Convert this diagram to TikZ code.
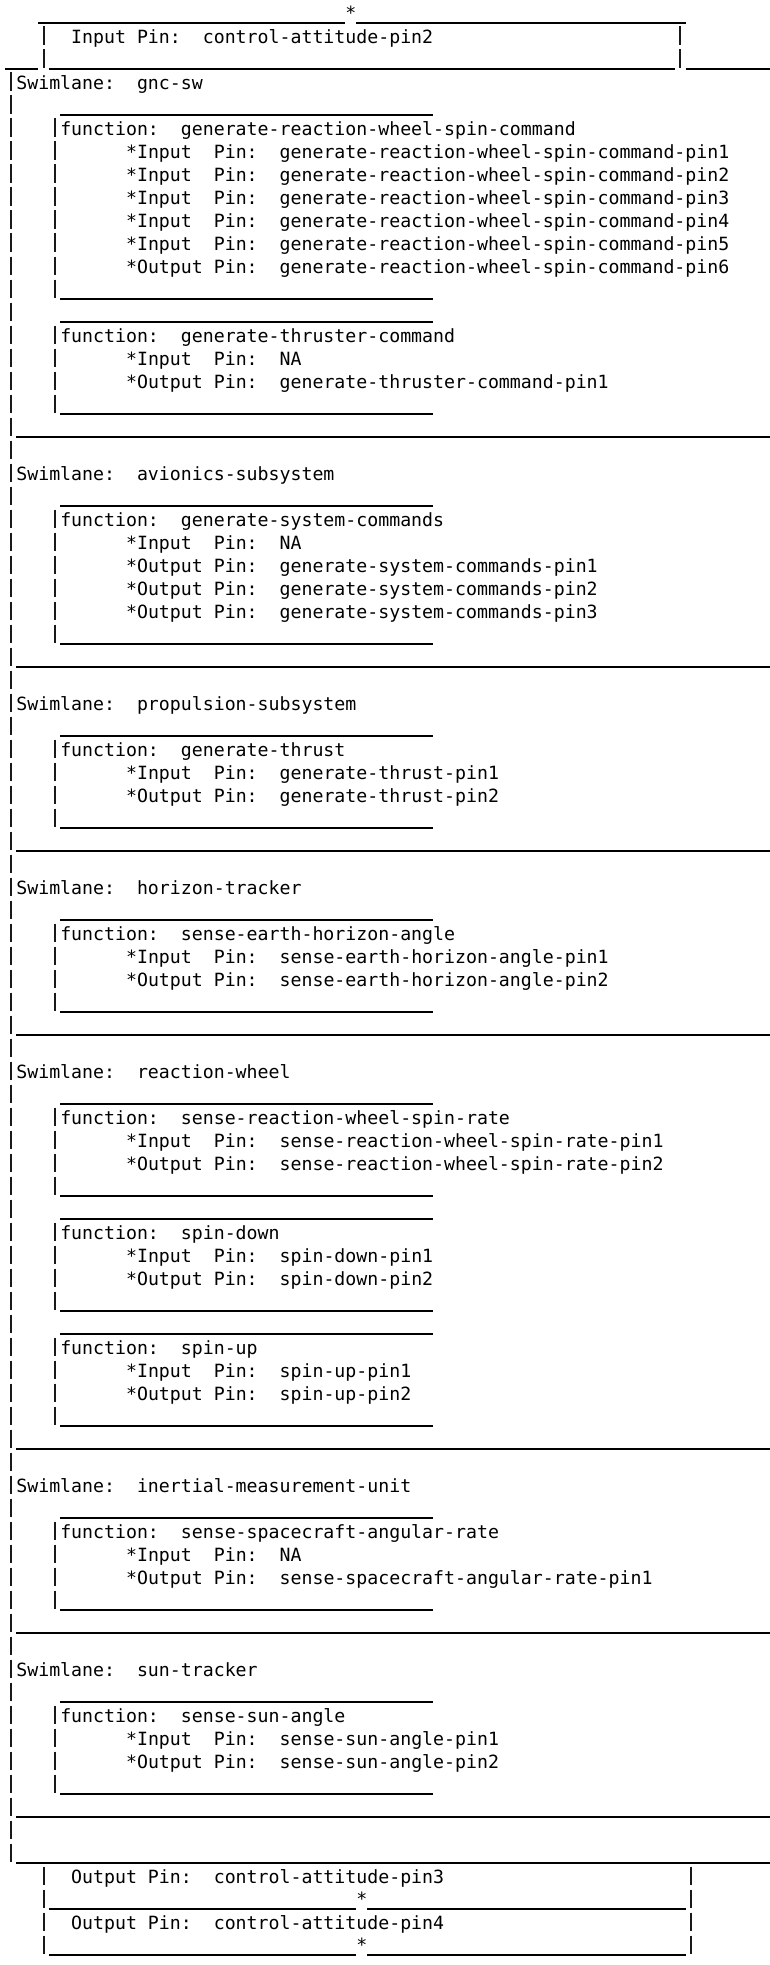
\documentclass[tikz,border=0pt]{standalone}
\usepackage{fontspec}
\newfontfamily\monofont{DejaVu Sans Mono}
\newcommand\mkUL[3]{\draw[uline] (#1,#3+0.9913) -- (#2+1,#3+0.9913);}
\newcommand\mkULend[2]{\draw[uline] (#1,#2+0.9913) -- (69.8,#2+0.9913);}
\newcommand\mkVB[3]{\draw[vbar] (#1+0.5,#2+0.152) -- (#1+0.5,#3+0.9565);}
\newcommand\funcbox[2]{\mkUL{5}{38}{#1}\mkUL{5}{38}{#2}\mkVB{4}{#1+1}{#2}}
\begin{document}
\begin{tikzpicture}[x=10.97pt,y=-23pt,
  txt/.style={anchor=base west,inner sep=0pt,outer sep=0pt,text=black,
    font=\monofont\fontsize{18.22pt}{23pt}\selectfont},
  uline/.style={line width=2.2pt,draw=black},
  vbar/.style={line width=1.5pt,draw=black!90,dash pattern=on 18.5pt off 4.5pt}]
\useasboundingbox[fill=white] (-5.4pt,0pt) rectangle (763.6pt,-1965pt);
% ---------- top pin box ----------
\mkUL{3}{30}{0}
\mkUL{32}{61}{0}
\node[txt] (startop) at (31,0.84) {*};
\node[txt] (inpin2) at (6,1.8826) {Input Pin:~~control-attitude-pin2};
\mkVB{3}{1}{2}
\mkVB{61}{1}{2}
\mkUL{0}{2}{2}
\mkUL{4}{60}{2}
\mkULend{62}{2}
% ---------- swimlane frame ----------
\mkVB{0}{3}{80}
\foreach \r in {18,28,36,44,62,70,78,80} {\mkULend{1}{\r}}
% ---------- function boxes ----------
\funcbox{4}{12}
\funcbox{13}{17}
\funcbox{21}{27}
\funcbox{31}{35}
\funcbox{39}{43}
\funcbox{47}{51}
\funcbox{52}{56}
\funcbox{57}{61}
\funcbox{65}{69}
\funcbox{73}{77}
% ---------- gnc-sw ----------
\node[txt] (sw1) at (1,3.8826) {Swimlane:~~gnc-sw};
\node[txt] (f1) at (5,5.8826) {function:~~generate-reaction-wheel-spin-command};
\node[txt] (f1a) at (11,6.8826) {*Input~~Pin:~~generate-reaction-wheel-spin-command-pin1};
\node[txt] (f1b) at (11,7.8826) {*Input~~Pin:~~generate-reaction-wheel-spin-command-pin2};
\node[txt] (f1c) at (11,8.8826) {*Input~~Pin:~~generate-reaction-wheel-spin-command-pin3};
\node[txt] (f1d) at (11,9.8826) {*Input~~Pin:~~generate-reaction-wheel-spin-command-pin4};
\node[txt] (f1e) at (11,10.8826) {*Input~~Pin:~~generate-reaction-wheel-spin-command-pin5};
\node[txt] (f1f) at (11,11.8826) {*Output Pin:~~generate-reaction-wheel-spin-command-pin6};
\node[txt] (f2) at (5,14.8826) {function:~~generate-thruster-command};
\node[txt] (f2a) at (11,15.8826) {*Input~~Pin:~~NA};
\node[txt] (f2b) at (11,16.8826) {*Output Pin:~~generate-thruster-command-pin1};
% ---------- avionics ----------
\node[txt] (sw2) at (1,20.8826) {Swimlane:~~avionics-subsystem};
\node[txt] (f3) at (5,22.8826) {function:~~generate-system-commands};
\node[txt] (f3a) at (11,23.8826) {*Input~~Pin:~~NA};
\node[txt] (f3b) at (11,24.8826) {*Output Pin:~~generate-system-commands-pin1};
\node[txt] (f3c) at (11,25.8826) {*Output Pin:~~generate-system-commands-pin2};
\node[txt] (f3d) at (11,26.8826) {*Output Pin:~~generate-system-commands-pin3};
% ---------- propulsion ----------
\node[txt] (sw3) at (1,30.8826) {Swimlane:~~propulsion-subsystem};
\node[txt] (f4) at (5,32.8826) {function:~~generate-thrust};
\node[txt] (f4a) at (11,33.8826) {*Input~~Pin:~~generate-thrust-pin1};
\node[txt] (f4b) at (11,34.8826) {*Output Pin:~~generate-thrust-pin2};
% ---------- horizon tracker ----------
\node[txt] (sw4) at (1,38.8826) {Swimlane:~~horizon-tracker};
\node[txt] (f5) at (5,40.8826) {function:~~sense-earth-horizon-angle};
\node[txt] (f5a) at (11,41.8826) {*Input~~Pin:~~sense-earth-horizon-angle-pin1};
\node[txt] (f5b) at (11,42.8826) {*Output Pin:~~sense-earth-horizon-angle-pin2};
% ---------- reaction wheel ----------
\node[txt] (sw5) at (1,46.8826) {Swimlane:~~reaction-wheel};
\node[txt] (f6) at (5,48.8826) {function:~~sense-reaction-wheel-spin-rate};
\node[txt] (f6a) at (11,49.8826) {*Input~~Pin:~~sense-reaction-wheel-spin-rate-pin1};
\node[txt] (f6b) at (11,50.8826) {*Output Pin:~~sense-reaction-wheel-spin-rate-pin2};
\node[txt] (f7) at (5,53.8826) {function:~~spin-down};
\node[txt] (f7a) at (11,54.8826) {*Input~~Pin:~~spin-down-pin1};
\node[txt] (f7b) at (11,55.8826) {*Output Pin:~~spin-down-pin2};
\node[txt] (f8) at (5,58.8826) {function:~~spin-up};
\node[txt] (f8a) at (11,59.8826) {*Input~~Pin:~~spin-up-pin1};
\node[txt] (f8b) at (11,60.8826) {*Output Pin:~~spin-up-pin2};
% ---------- IMU ----------
\node[txt] (sw6) at (1,64.8826) {Swimlane:~~inertial-measurement-unit};
\node[txt] (f9) at (5,66.8826) {function:~~sense-spacecraft-angular-rate};
\node[txt] (f9a) at (11,67.8826) {*Input~~Pin:~~NA};
\node[txt] (f9b) at (11,68.8826) {*Output Pin:~~sense-spacecraft-angular-rate-pin1};
% ---------- sun tracker ----------
\node[txt] (sw7) at (1,72.8826) {Swimlane:~~sun-tracker};
\node[txt] (f10) at (5,74.8826) {function:~~sense-sun-angle};
\node[txt] (f10a) at (11,75.8826) {*Input~~Pin:~~sense-sun-angle-pin1};
\node[txt] (f10b) at (11,76.8826) {*Output Pin:~~sense-sun-angle-pin2};
% ---------- bottom pin boxes ----------
\node[txt] (outpin3) at (6,81.8826) {Output Pin:~~control-attitude-pin3};
\node[txt] (outpin4) at (6,83.8826) {Output Pin:~~control-attitude-pin4};
\mkVB{3}{81}{84}
\mkVB{62}{81}{84}
\mkUL{4}{31}{82}
\mkUL{33}{61}{82}
\mkUL{4}{31}{84}
\mkUL{33}{61}{84}
\node[txt] (starb1) at (32,82.84) {*};
\node[txt] (starb2) at (32,84.84) {*};
\end{tikzpicture}
\end{document}
